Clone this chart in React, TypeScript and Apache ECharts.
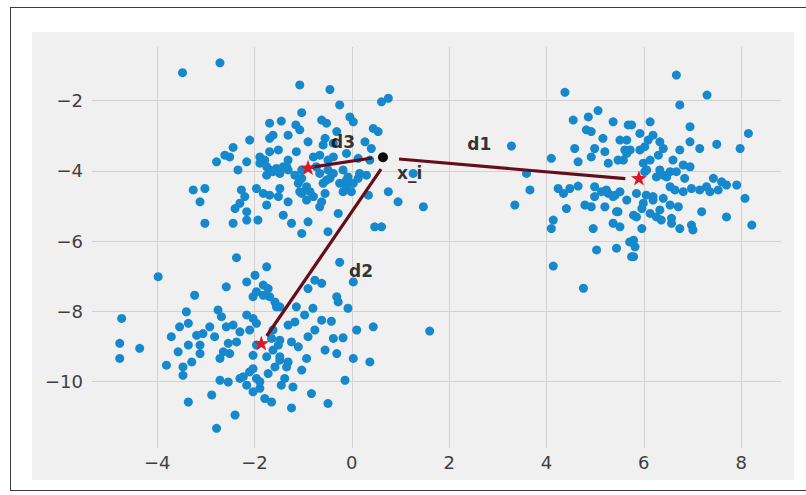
import React, { useEffect, useRef } from "react";
import * as echarts from "echarts";

// ---- data ----
const clusterTopLeft: number[][] = [
  [-3.48,-1.20],[-2.71,-0.92],[-1.07,-1.55],[-1.03,-2.34],[-1.69,-2.64],[-1.45,-2.58],[-1.15,-2.69],[-1.07,-2.83],
  [-1.69,-3.07],[-1.62,-2.98],[-1.31,-2.98],[-2.10,-3.12],[-2.44,-3.33],[-2.61,-3.55],[-2.78,-3.74],[-2.51,-3.60],
  [-2.16,-3.74],[-1.89,-3.60],[-1.79,-3.69],[-1.89,-3.78],[-1.51,-3.40],[-1.69,-3.45],[-1.14,-3.45],[-2.34,-3.97],
  [-1.75,-4.12],[-1.69,-3.97],[-1.55,-3.93],[-1.41,-3.88],[-1.31,-3.69],[-1.31,-3.97],[-1.17,-4.12],[-1.10,-4.35],
  [-1.07,-4.59],[-3.26,-4.54],[-3.02,-4.50],[-3.12,-4.88],[-2.27,-4.54],[-2.20,-4.73],[-2.30,-4.92],[-2.40,-5.07],
  [-1.96,-4.50],[-1.82,-4.64],[-1.69,-4.69],[-1.48,-4.50],[-1.51,-4.73],[-1.75,-4.97],[-1.31,-4.88],[-2.16,-5.16],
  [-2.16,-5.40],[-2.44,-5.49],[-1.93,-5.40],[-3.02,-5.49],[-1.41,-5.26],[-1.24,-5.49],[-1.03,-5.78],
  [-0.45,-1.68],[-0.25,-2.12],[0.61,-2.03],[0.75,-1.93],[-0.62,-2.55],[-0.52,-2.64],[-0.04,-2.46],[0.03,-2.60],
  [0.44,-2.79],[0.54,-2.88],[-0.31,-2.88],[-0.55,-3.07],[-0.59,-3.26],[-0.38,-3.21],[0.27,-3.17],[0.40,-3.36],
  [-0.90,-3.17],[-0.79,-3.60],[-0.66,-3.55],[-0.49,-3.69],[-0.38,-3.60],[-0.11,-3.50],[0.13,-3.64],[0.37,-3.69],
  [-1.03,-3.97],[-1.03,-4.21],[-0.73,-3.88],[-0.66,-4.07],[-0.49,-3.97],[-0.45,-4.21],[-0.59,-4.35],[-0.18,-3.97],
  [-0.08,-4.17],[0.03,-4.35],[0.13,-4.21],[-0.25,-4.35],[0.30,-4.12],[-0.86,-4.59],[-1.03,-4.64],[-0.93,-4.83],
  [-0.55,-4.64],[-0.62,-4.88],[-0.66,-5.02],[-0.18,-4.59],[-0.11,-4.45],[-0.01,-4.59],[0.34,-4.69],[0.75,-4.59],
  [0.95,-4.88],[1.26,-4.07],[1.47,-5.02],[-0.90,-5.45],[-0.49,-5.73],[-0.28,-5.21],[0.47,-5.59],[0.61,-5.59],
  [-1.34,-3.88],[-1.48,-4.07],[-1.62,-4.02],[-1.75,-3.88],[-1.07,-4.26],[-0.93,-4.45],[-0.79,-4.73],[-0.52,-4.26],
  [-0.38,-4.07],[-0.11,-4.26],[0.16,-4.07],
];

const clusterBottomLeft: number[][] = [
  [-2.37,-6.47],[-3.98,-7.01],[-1.75,-6.73],[-2.58,-7.30],[-3.23,-7.54],[-2.16,-7.16],[-1.99,-6.97],[-1.82,-7.25],
  [-2.03,-7.58],[-1.82,-7.54],[-4.73,-8.20],[-3.40,-8.01],[-3.36,-8.34],[-3.54,-8.44],[-3.71,-8.72],[-2.75,-7.96],
  [-2.68,-8.15],[-2.92,-8.44],[-3.06,-8.63],[-3.19,-8.68],[-2.82,-8.72],[-2.58,-8.44],[-2.44,-8.39],[-2.30,-8.58],
  [-2.37,-8.87],[-2.54,-8.91],[-2.64,-9.15],[-2.71,-9.34],[-2.51,-9.20],[-2.16,-8.10],[-2.03,-8.20],[-4.77,-8.91],
  [-4.36,-9.05],[-4.77,-9.34],[-3.57,-9.15],[-3.36,-8.96],[-3.29,-9.44],[-3.47,-9.58],[-3.47,-9.82],[-3.81,-9.53],
  [-3.12,-8.96],[-3.12,-9.20],[-2.10,-9.72],[-1.96,-9.91],[-2.30,-9.91],[-2.16,-10.10],[-2.03,-10.29],[-2.71,-9.96],
  [-2.54,-10.01],[-2.88,-10.38],[-3.36,-10.58],[-2.40,-10.95],[-2.78,-11.33],[-1.96,-8.96],[-2.03,-9.25],[-1.79,-10.48],
  [-1.89,-10.19],
  [-0.25,-6.60],[0.03,-7.16],[-0.76,-7.11],[-0.62,-7.20],[-0.90,-7.35],[-1.72,-7.35],[-1.58,-7.73],[-1.48,-7.87],
  [-1.14,-7.87],[-0.80,-7.91],[-0.97,-8.10],[-1.17,-8.30],[-0.31,-7.58],[-0.28,-7.73],[-0.08,-7.91],[-0.62,-8.25],
  [-0.42,-8.28],[-1.31,-8.39],[-0.76,-8.53],[-0.90,-8.72],[0.10,-8.53],[0.44,-8.44],[1.60,-8.56],[-0.38,-8.77],
  [-0.18,-8.75],[-1.24,-8.87],[-1.10,-9.01],[-1.51,-8.96],[-1.65,-8.77],[-0.55,-9.10],[-0.31,-9.20],[0.03,-9.34],
  [0.37,-9.44],[-0.93,-9.34],[-1.03,-9.67],[-1.31,-9.44],[-1.48,-9.29],[-1.58,-9.58],[-0.14,-9.96],[-1.38,-9.91],
  [-1.21,-10.15],[-1.45,-10.10],[-0.83,-10.34],[-0.49,-10.62],[-1.65,-10.58],[-1.24,-10.75],[-1.72,-9.77],
  [-1.96,-7.44],[-1.69,-7.58],[-1.55,-7.87],[-1.96,-8.34],[-2.10,-8.53],[-1.62,-8.53],[-1.48,-8.82],[-1.62,-9.10],
  [-1.75,-9.29],[-1.48,-9.39],[-1.34,-9.58],[-2.23,-9.86],[-2.03,-9.63],[-1.89,-10.0],
];

const clusterRight: number[][] = [
  [4.38,-1.76],[3.28,-3.29],[4.55,-2.55],[4.86,-2.46],[5.06,-2.28],[5.37,-2.60],[4.82,-2.83],[4.92,-2.88],
  [5.16,-3.07],[5.68,-2.69],[4.58,-3.36],[4.65,-3.74],[4.99,-3.36],[4.92,-3.60],[5.20,-3.45],[5.27,-3.78],
  [5.47,-3.69],[5.61,-3.40],[5.51,-3.12],[4.10,-3.64],[3.59,-4.07],[3.66,-4.54],[3.35,-4.97],[4.24,-4.50],
  [4.35,-4.64],[4.48,-4.50],[4.65,-4.43],[4.41,-5.07],[4.14,-5.40],[4.10,-5.64],[4.79,-4.97],[4.92,-5.02],
  [4.99,-4.45],[5.13,-4.59],[5.27,-4.64],[5.41,-4.69],[5.51,-4.59],[4.99,-4.73],[5.20,-5.02],[5.47,-5.16],
  [5.37,-5.49],[5.51,-5.59],[4.96,-5.64],[5.03,-6.25],[5.44,-6.20],[4.14,-6.71],[4.76,-7.34],[5.71,-6.02],
  [5.75,-6.44],
  [6.67,-1.27],[7.30,-1.84],[6.74,-2.12],[6.13,-2.60],[6.95,-2.74],[8.15,-2.93],[7.98,-3.36],[7.50,-3.24],
  [7.15,-3.36],[6.95,-3.17],[6.74,-3.40],[5.75,-2.69],[5.92,-2.93],[6.09,-3.12],[6.19,-2.98],[6.33,-3.17],
  [6.40,-3.36],[6.30,-3.55],[6.13,-3.69],[6.02,-3.31],[5.92,-3.40],[6.60,-3.69],[6.81,-3.83],[6.95,-3.88],
  [6.84,-4.21],[6.33,-3.97],[6.26,-4.17],[6.40,-4.12],[6.54,-4.02],[6.67,-4.02],[6.02,-4.02],[5.99,-3.78],
  [7.43,-4.21],[7.60,-4.31],[7.70,-4.40],[7.91,-4.40],[7.29,-4.45],[7.15,-4.54],[6.98,-4.50],[6.81,-4.59],
  [6.64,-4.54],[6.54,-4.45],[7.53,-4.54],[7.36,-4.59],[5.85,-4.64],[6.05,-4.69],[6.19,-4.83],[6.40,-4.78],
  [6.54,-4.97],[6.71,-5.02],[8.08,-4.78],[7.19,-5.16],[5.79,-5.26],[5.96,-5.07],[6.13,-5.21],[6.26,-5.31],
  [6.36,-5.40],[6.57,-5.35],[6.57,-5.49],[6.74,-5.64],[6.98,-5.54],[7.01,-5.68],[7.70,-5.31],[8.22,-5.54],
  [5.96,-5.64],[5.79,-5.97],[5.82,-6.16],[5.79,-6.44],
  [5.65,-3.50],[5.58,-3.69],[6.06,-3.97],[6.47,-4.17],[5.65,-4.83],[5.99,-4.92],[6.19,-4.73],[6.33,-5.11],
  [5.23,-4.54],[5.37,-4.73],[5.44,-5.16],[5.85,-5.31],[5.65,-3.12],[5.72,-3.40],
];

const centroids: number[][] = [[5.9, -4.2], [-1.86, -8.9], [-0.9, -3.9]];
const pointXi: number[] = [0.64, -3.61];

// distance segments (start, end) as drawn
const segD1: number[][] = [[0.97, -3.66], [5.62, -4.22]];
const segD2: number[][] = [[0.6, -3.95], [-1.75, -8.7]];
const segD3: number[][] = [[-0.85, -3.9], [0.42, -3.63]];

const textLabels: { name: string; value: number[] }[] = [
  { name: "d1", value: [2.62, -3.24] },
  { name: "d2", value: [0.19, -6.85] },
  { name: "d3", value: [-0.18, -3.17] },
  { name: "x_i", value: [1.19, -4.05] },
];

const xTickValues = [-4, -2, 0, 2, 4, 6, 8];
const xTickLabels = ["\u22124", "\u22122", "0", "2", "4", "6", "8"];
const yTickValues = [-10, -8, -6, -4, -2];
const yTickLabels = ["\u221210", "\u22128", "\u22126", "\u22124", "\u22122"];

const X_MIN = -5.34, X_MAX = 8.82, Y_MIN = -11.89, Y_MAX = -0.47;

function starPath(): string {
  const pts: string[] = [];
  for (let i = 0; i < 10; i++) {
    const r = i % 2 === 0 ? 10 : 3.9;
    const a = -Math.PI / 2 + (i * Math.PI) / 5;
    pts.push(`${(i === 0 ? "M" : "L")}${(r * Math.cos(a)).toFixed(3)} ${(r * Math.sin(a)).toFixed(3)}`);
  }
  return "path://" + pts.join(" ") + " Z";
}

function tickFormatter(values: number[], labels: string[]) {
  return (v: number) => {
    const i = values.findIndex((t) => Math.abs(t - v) < 1e-6);
    return i >= 0 ? labels[i] : "";
  };
}

export default function App() {
  const ref = useRef<HTMLDivElement>(null);

  useEffect(() => {
    if (!ref.current) return;
    const chart = echarts.init(ref.current, undefined, { renderer: "svg" });
    const dotColor = "#1688cc";
    const lineColor = "#660c1a";
    const fontFamily = "DejaVu Sans";
    const lineSeries = (seg: number[][]) => ({
      type: "line",
      data: seg,
      symbol: "none",
      lineStyle: { color: lineColor, width: 3.2 },
      z: 3,
      silent: true,
    });
    chart.setOption({
      animation: false,
      backgroundColor: "transparent",
      grid: { left: 92, right: 25, top: 47, bottom: 47 },
      xAxis: {
        type: "value",
        min: X_MIN,
        max: X_MAX,
        splitNumber: 7,
        axisLine: { show: false },
        axisTick: { show: false },
        axisLabel: {
          showMinLabel: false,
          showMaxLabel: false,
          formatter: tickFormatter(xTickValues, xTickLabels),
          color: "#3f3f3f",
          fontSize: 18,
          fontFamily,
          margin: 5,
        },
        splitLine: { show: true, showMinLine: false, showMaxLine: false, lineStyle: { color: "#d2d2d2", width: 1 } },
      },
      yAxis: {
        type: "value",
        min: Y_MIN,
        max: Y_MAX,
        splitNumber: 6,
        axisLine: { show: false },
        axisTick: { show: false },
        axisLabel: {
          showMinLabel: false,
          showMaxLabel: false,
          formatter: tickFormatter(yTickValues, yTickLabels),
          color: "#3f3f3f",
          fontSize: 18,
          fontFamily,
          margin: 9,
        },
        splitLine: { show: true, showMinLine: false, showMaxLine: false, lineStyle: { color: "#d2d2d2", width: 1 } },
      },
      series: [
        {
          type: "scatter",
          data: [...clusterTopLeft, ...clusterBottomLeft, ...clusterRight],
          symbolSize: 9,
          itemStyle: { color: dotColor, opacity: 1 },
          z: 2,
        },
        lineSeries(segD1),
        lineSeries(segD2),
        lineSeries(segD3),
        {
          type: "scatter",
          data: centroids,
          symbol: starPath(),
          symbolKeepAspect: true,
          symbolSize: 16,
          itemStyle: { color: "#d41c28", opacity: 1 },
          z: 4,
        },
        {
          type: "scatter",
          data: [pointXi],
          symbolSize: 10,
          itemStyle: { color: "#0a0a0a", opacity: 1 },
          z: 5,
        },
        {
          type: "scatter",
          data: textLabels,
          symbolSize: 1,
          itemStyle: { color: "transparent" },
          z: 6,
          label: {
            show: true,
            position: "inside",
            formatter: (p: any) => p.name,
            color: "#000000",
            fontSize: 17,
            fontWeight: "bold",
            fontFamily,
          },
        },
      ],
    });
    return () => chart.dispose();
  }, []);

  return (
    <div style={{ position: "fixed", left: 0, top: 0, width: 806, height: 495, background: "#ffffff", overflow: "hidden" }}>
      <div
        style={{
          position: "absolute",
          left: 10,
          top: 7,
          width: 830,
          height: 484,
          borderTop: "1.5px solid #3c3c3c",
          borderLeft: "1.5px solid #3c3c3c",
          borderBottom: "1.5px solid #3c3c3c",
          boxSizing: "border-box",
        }}
      />
      <div style={{ position: "absolute", left: 32, top: 32, width: 762, height: 448, background: "#f0f0f0" }} />
      <div ref={ref} style={{ position: "absolute", left: 0, top: 0, width: 806, height: 495 }} />
    </div>
  );
}
